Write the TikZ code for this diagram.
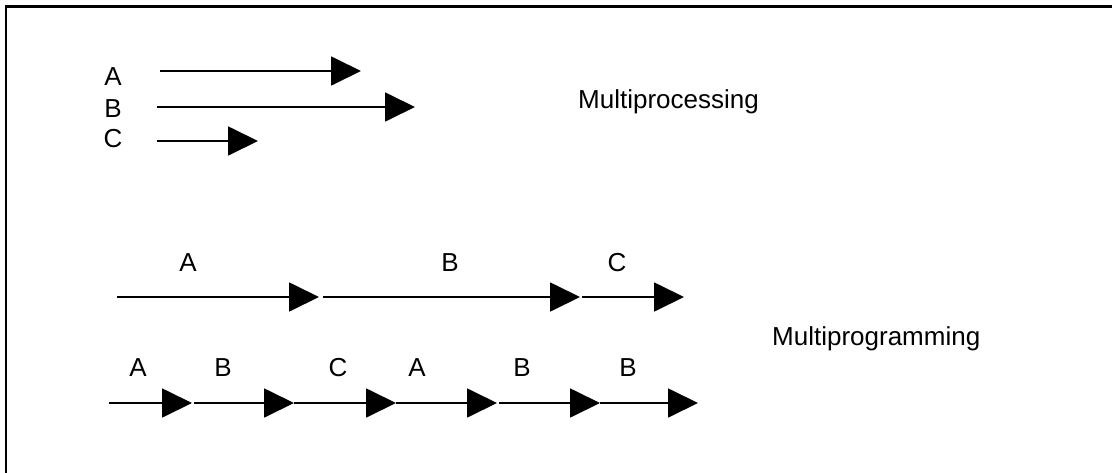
\documentclass[tikz,border=0pt]{standalone}
\usepackage{fontspec}
\setmainfont{Liberation Sans}
\usetikzlibrary{arrows.meta}
\begin{document}
\begin{tikzpicture}[x=1pt,y=-1pt,
  arr/.style={line width=1.8pt,-{Triangle[length=30pt,width=29pt]}},
  lbl/.style={anchor=base,inner sep=0pt,font=\fontsize{26}{31}\selectfont},
  title/.style={anchor=base west,inner sep=0pt,font=\fontsize{26}{31}\selectfont},
  frame/.style={line width=2.2pt}]
\useasboundingbox (0,0) rectangle (1112,472);
\coordinate (fb) at (6,473);
\coordinate (fc) at (6,6.5);
\coordinate (fr) at (1113,6.5);
\draw[frame] (fb) -- (fc) -- (fr);
% Multiprocessing
\node[lbl] (lA) at (113,85) {A};
\node[lbl] (lB) at (113,117) {B};
\node[lbl] (lC) at (113,147) {C};
\coordinate (pAs) at (160,71);  \coordinate (pAe) at (361,71);
\coordinate (pBs) at (157,107); \coordinate (pBe) at (415,107);
\coordinate (pCs) at (157,141); \coordinate (pCe) at (258,141);
\draw[arr] (pAs) -- (pAe);
\draw[arr] (pBs) -- (pBe);
\draw[arr] (pCs) -- (pCe);
\node[title] (mp) at (578,108) {Multiprocessing};
% Multiprogramming row 1
\node[lbl] (r1A) at (188,271) {A};
\node[lbl] (r1B) at (450,271) {B};
\node[lbl] (r1C) at (617,271) {C};
\coordinate (r1s1) at (117,297); \coordinate (r1e1) at (319,297);
\coordinate (r1s2) at (323,297); \coordinate (r1e2) at (580,297);
\coordinate (r1s3) at (582,297); \coordinate (r1e3) at (684,297);
\draw[arr] (r1s1) -- (r1e1);
\draw[arr] (r1s2) -- (r1e2);
\draw[arr] (r1s3) -- (r1e3);
% Multiprogramming row 2
\node[lbl] (r2a) at (138,376) {A};
\node[lbl] (r2b) at (223,376) {B};
\node[lbl] (r2c) at (338,376) {C};
\node[lbl] (r2d) at (417,376) {A};
\node[lbl] (r2e) at (522,376) {B};
\node[lbl] (r2f) at (628,376) {B};
\coordinate (r2s1) at (109,403); \coordinate (r2e1) at (192,403);
\coordinate (r2s2) at (194,403); \coordinate (r2e2) at (294,403);
\coordinate (r2s3) at (294,403); \coordinate (r2e3) at (396,403);
\coordinate (r2s4) at (396,403); \coordinate (r2e4) at (497,403);
\coordinate (r2s5) at (499,403); \coordinate (r2e5) at (600,403);
\coordinate (r2s6) at (600,403); \coordinate (r2e6) at (698,403);
\draw[arr] (r2s1) -- (r2e1);
\draw[arr] (r2s2) -- (r2e2);
\draw[arr] (r2s3) -- (r2e3);
\draw[arr] (r2s4) -- (r2e4);
\draw[arr] (r2s5) -- (r2e5);
\draw[arr] (r2s6) -- (r2e6);
\node[title] (mg) at (772,345) {Multiprogramming};
\end{tikzpicture}
\end{document}
